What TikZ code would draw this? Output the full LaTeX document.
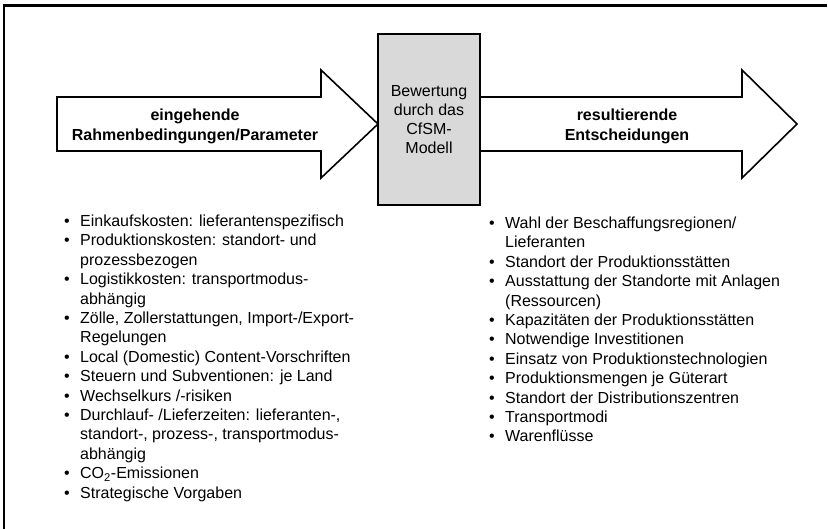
\documentclass[tikz,border=0pt]{standalone}
\usepackage{fontspec}
\setmainfont{Liberation Sans}
\usepackage{array}
\definecolor{boxgray}{RGB}{217,217,217}
\begin{document}
\begin{tikzpicture}[x=1pt,y=-1pt,line join=miter,
  frameline/.style={draw=black,line width=2.2pt},
  arrowshape/.style={draw=black,line width=1.6pt,fill=white},
  modelbox/.style={draw=black,line width=1.6pt,fill=boxgray,inner sep=0pt,
    minimum width=102pt,minimum height=171pt,align=center,
    font=\fontsize{16}{19}\selectfont},
  arrowlabel/.style={inner sep=0pt,align=center,font=\fontsize{16}{20}\selectfont\bfseries},
  listtext/.style={inner sep=0pt,anchor=base west,font=\fontsize{16}{19.4}\selectfont}
]
\useasboundingbox (0,0) rectangle (828,529);
\fill[white] (0,0) rectangle (828,529);
\draw[frameline] (4,529) -- (4,5.5) -- (827,5.5);

% left arrow
\coordinate (ltip) at (378,124);
\draw[arrowshape] (57,97) -- (321,97) -- (321,70) -- (ltip) -- (321,178) -- (321,151) -- (57,151) -- cycle;
% right arrow
\coordinate (rtip) at (797,124);
\draw[arrowshape] (480,97) -- (742,97) -- (742,70) -- (rtip) -- (742,178) -- (742,151) -- (480,151) -- cycle;

\node[modelbox] (model) at (429,119.5) {Bewertung\\durch das\\CfSM-\\Modell};

\node[arrowlabel] (inlabel) at (195,126) {eingehende\\Rahmenbedingungen/Parameter};
\node[arrowlabel] (outlabel) at (627,126) {resultierende\\Entscheidungen};

\node[listtext] (inlist) at (64,226.5) {\begin{tabular}[t]{@{}p{16pt}@{}l@{}}
\textbullet & Einkaufskosten: lieferantenspezifisch\\
\textbullet & Produktionskosten: standort- und\\
 & prozessbezogen\\
\textbullet & Logistikkosten: transportmodus-\\
 & abhängig\\
\textbullet & Zölle, Zollerstattungen, Import-/Export-\\
 & Regelungen\\
\textbullet & Local (Domestic) Content-Vorschriften\\
\textbullet & Steuern und Subventionen: je Land\\
\textbullet & Wechselkurs /-risiken\\
\textbullet & Durchlauf- /Lieferzeiten: lieferanten-,\\
 & standort-, prozess-, transportmodus-\\
 & abhängig\\
\textbullet & CO\textsubscript{2}-Emissionen\\
\textbullet & Strategische Vorgaben
\end{tabular}};

\node[listtext] (outlist) at (489,228.5) {\begin{tabular}[t]{@{}p{16pt}@{}l@{}}
\textbullet & Wahl der Beschaffungsregionen/\\
 & Lieferanten\\
\textbullet & Standort der Produktionsstätten\\
\textbullet & Ausstattung der Standorte mit Anlagen\\
 & (Ressourcen)\\
\textbullet & Kapazitäten der Produktionsstätten\\
\textbullet & Notwendige Investitionen\\
\textbullet & Einsatz von Produktionstechnologien\\
\textbullet & Produktionsmengen je Güterart\\
\textbullet & Standort der Distributionszentren\\
\textbullet & Transportmodi\\
\textbullet & Warenflüsse
\end{tabular}};
\end{tikzpicture}
\end{document}
